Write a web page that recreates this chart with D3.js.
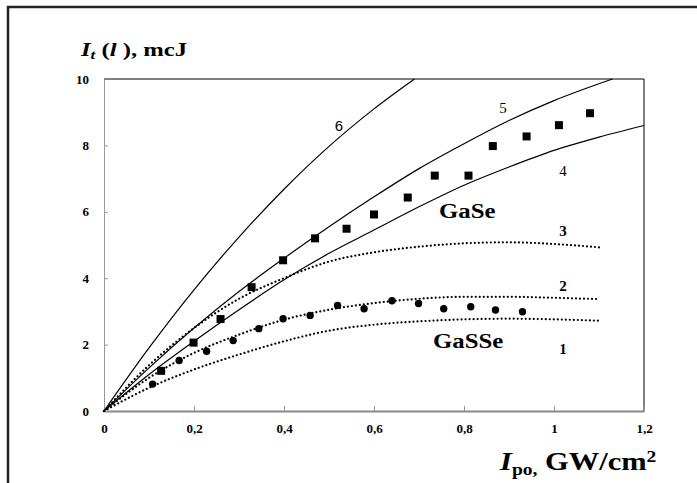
<!DOCTYPE html>
<html><head><meta charset="utf-8">
<script src="https://cdn.jsdelivr.net/npm/d3@7"></script>
<style>body{margin:0;background:#fff}svg{display:block}</style>
</head><body><svg id="c" width="697" height="483"></svg>
<script>
// ---- data ----
const xTicks = [0, 0.2, 0.4, 0.6, 0.8, 1, 1.2];
const yTicks = [0, 2, 4, 6, 8, 10];
const curveX = [0, 0.1, 0.2, 0.3, 0.4, 0.5, 0.6, 0.7, 0.8, 0.9, 1.0, 1.1, 1.2];
const curve6X = [0, 0.1, 0.2, 0.3, 0.4, 0.5, 0.6, 0.69];
const curve6 = [0, 1.90, 3.65, 5.24, 6.68, 7.97, 9.10, 10.0];
const curve5X = [0, 0.1, 0.2, 0.3, 0.4, 0.5, 0.6, 0.7, 0.8, 0.9, 1.0, 1.13];
const curve5 = [0, 1.3, 2.5, 3.6, 4.6, 5.55, 6.45, 7.3, 8.05, 8.75, 9.35, 10.0];
const curve4 = [0, 1.1, 2.1, 3.05, 3.95, 4.75, 5.45, 6.15, 6.8, 7.35, 7.85, 8.25, 8.6];
const curve3 = [0, 1.38, 2.5, 3.38, 4.0, 4.5, 4.78, 4.95, 5.05, 5.08, 5.03, 4.93];
const curve2 = [0, 1.0, 1.75, 2.3, 2.75, 3.05, 3.25, 3.38, 3.44, 3.44, 3.41, 3.37];
const curve1 = [0, 0.7, 1.25, 1.7, 2.1, 2.42, 2.6, 2.7, 2.76, 2.78, 2.76, 2.72];
const gaseX = [0.127, 0.199, 0.259, 0.328, 0.398, 0.469, 0.539, 0.600, 0.675, 0.735, 0.810, 0.864, 0.939, 1.011, 1.080];
const gaseY = [1.21, 2.06, 2.77, 3.73, 4.54, 5.20, 5.49, 5.92, 6.43, 7.09, 7.09, 7.98, 8.27, 8.61, 8.97];
const gasseX = [0.108, 0.167, 0.228, 0.287, 0.344, 0.398, 0.458, 0.519, 0.578, 0.640, 0.699, 0.755, 0.815, 0.870, 0.930];
const gasseY = [0.81, 1.52, 1.80, 2.12, 2.48, 2.78, 2.88, 3.18, 3.08, 3.32, 3.24, 3.08, 3.14, 3.04, 2.99];

const svg = d3.select('#c');
const x = d3.scaleLinear().domain([0, 1.2]).range([104, 644]);
const y = d3.scaleLinear().domain([0, 10]).range([411, 79]);
const serif = '"Times New Roman","Liberation Serif",serif';

// outer frame
svg.append('path').attr('d', 'M8,483 V7 H697').attr('fill', 'none')
  .attr('stroke', '#222').attr('stroke-width', 2.5);

// plot frame top/right
svg.append('path').attr('d', `M${x(0)},${y(10)} H${x(1.2)} V${y(0)}`)
  .attr('fill', 'none').attr('stroke', '#000').attr('stroke-width', 1);

// axes
const xAxis = d3.axisBottom(x).tickValues(xTicks).tickSizeInner(-5).tickSizeOuter(0)
  .tickFormat(d => d3.format('~g')(d).replace('.', ','));
const gx = svg.append('g').attr('transform', `translate(0,${y(0)})`).call(xAxis);
gx.select('.domain').attr('stroke', '#888').attr('stroke-width', 2);
gx.selectAll('.tick line').attr('stroke', '#999');
gx.selectAll('.tick text').attr('dy', 0).attr('y', 22)
  .attr('font-family', serif).attr('font-weight', 'bold').attr('font-size', 13).attr('fill', '#000');

const yAxis = d3.axisLeft(y).tickValues(yTicks).tickSizeInner(-4).tickSizeOuter(0);
const gy = svg.append('g').attr('transform', `translate(${x(0)},0)`).call(yAxis);
gy.select('.domain').attr('stroke', '#999').attr('stroke-width', 1);
gy.selectAll('.tick line').attr('stroke', '#999');
gy.selectAll('.tick text').attr('x', -15)
  .attr('font-family', serif).attr('font-weight', 'bold').attr('font-size', 13).attr('fill', '#000');
gy.selectAll('.tick').filter(d => d === 10).select('line').remove();

// curves
const line = d3.line().x(d => x(d[0])).y(d => y(d[1])).curve(d3.curveMonotoneX);
function draw(xs, ys, dotted) {
  const p = svg.append('path').datum(xs.map((v, i) => [v, ys[i]]).filter(d => d[1] !== undefined))
    .attr('d', line).attr('fill', 'none').attr('stroke', '#000');
  if (dotted) p.attr('stroke-width', 2.2).attr('stroke-dasharray', '0.01 4').attr('stroke-linecap', 'round');
  else p.attr('stroke-width', 1.2);
}
draw(curve6X, curve6, false);
draw(curve5X, curve5, false);
draw(curveX, curve4, false);
draw(curveX, curve3, true);
draw(curveX, curve2, true);
draw(curveX, curve1, true);

// markers
svg.append('g').selectAll('rect').data(gaseX).join('rect')
  .attr('x', (d) => x(d) - 4).attr('y', (d, i) => y(gaseY[i]) - 4)
  .attr('width', 8).attr('height', 8).attr('fill', '#000');
svg.append('g').selectAll('circle').data(gasseX).join('circle')
  .attr('cx', d => x(d)).attr('cy', (d, i) => y(gasseY[i])).attr('r', 3.7).attr('fill', '#000');

// curve labels
const labels = [
  {t: '6', x: 339, y: 131, w: 'normal', f: '"Liberation Sans",Arial,sans-serif'},
  {t: '5', x: 503, y: 113, w: 'normal', f: serif},
  {t: '4', x: 563, y: 176, w: 'normal', f: serif},
  {t: '3', x: 563, y: 236, w: 'bold', f: serif},
  {t: '2', x: 563, y: 291, w: 'bold', f: serif},
  {t: '1', x: 563, y: 354, w: 'bold', f: serif}
];
svg.append('g').selectAll('text').data(labels).join('text')
  .attr('x', d => d.x).attr('y', d => d.y).attr('text-anchor', 'middle')
  .attr('font-family', d => d.f).attr('font-weight', d => d.w).attr('font-size', 15)
  .text(d => d.t);

function stretched(tx, ty, sx) {
  return svg.append('g').attr('transform', `translate(${tx},${ty}) scale(${sx},1)`)
    .append('text').attr('font-family', serif).attr('font-weight', 'bold').attr('fill', '#000');
}
stretched(439, 218, 1.18).attr('font-size', 21).text('GaSe');
stretched(433, 348, 1.18).attr('font-size', 21).text('GaSSe');

// y title
const yt = stretched(81, 56, 1.3).attr('font-size', 19);
yt.append('tspan').attr('font-style', 'italic').text('I');
yt.append('tspan').attr('font-style', 'italic').attr('font-size', 13).attr('dy', 3).text('t');
yt.append('tspan').attr('dy', -3).text(' (');
yt.append('tspan').attr('font-style', 'italic').text('l');
yt.append('tspan').text(' ), mcJ');

// x title
const xt = stretched(500, 470, 1.22).attr('font-size', 25);
xt.append('tspan').attr('font-style', 'italic').text('I');
xt.append('tspan').attr('font-size', 16).attr('dy', 5).text('po,');
xt.append('tspan').attr('dy', -5).text(' GW/cm');
xt.append('tspan').attr('font-size', 16).attr('dy', -8).text('2');
</script></body></html>
